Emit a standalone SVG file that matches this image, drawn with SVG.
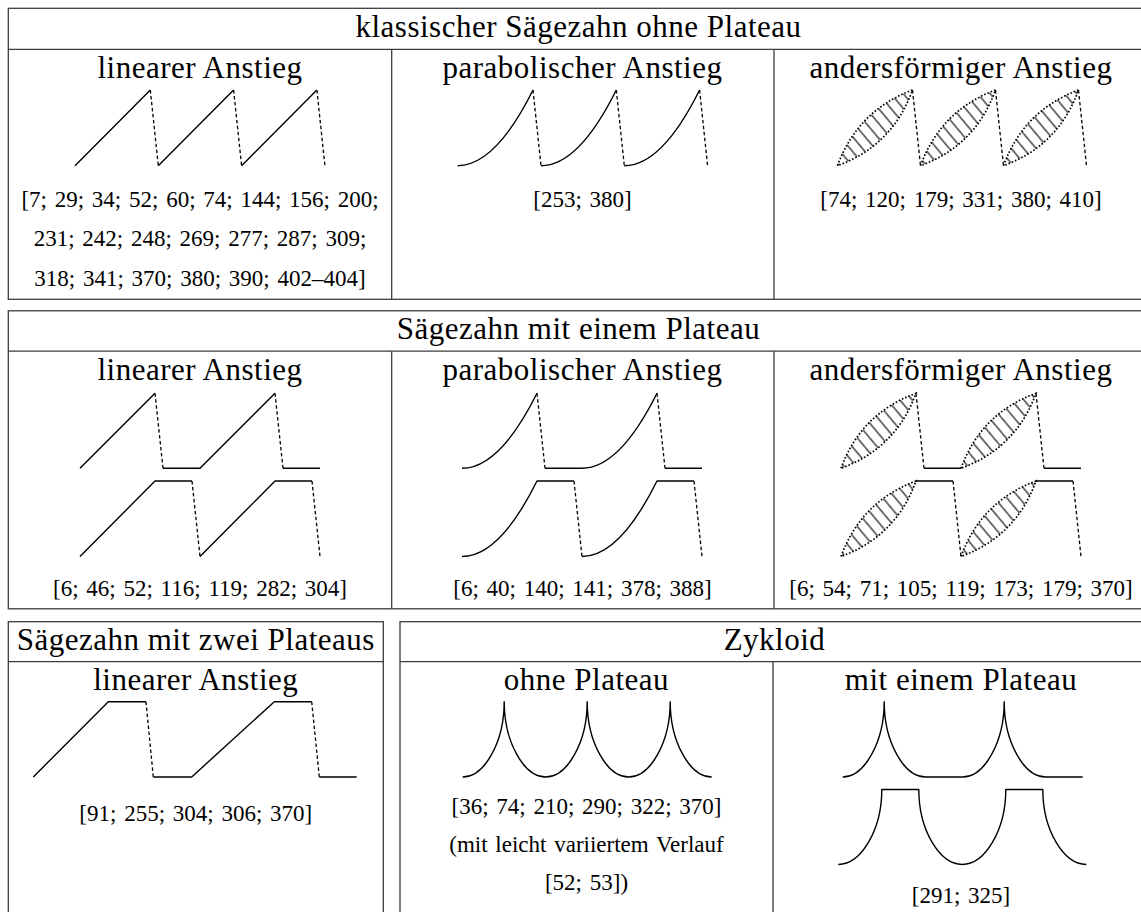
<svg xmlns="http://www.w3.org/2000/svg" width="1141" height="912" viewBox="0 0 1141 912">
<style>
.frame{fill:none;stroke:#3c3c3c;stroke-width:1.3}
.h{font-family:"Liberation Serif",serif;font-size:31px;letter-spacing:0.5px;text-anchor:middle;fill:#000}
.n{font-family:"Liberation Serif",serif;font-size:23px;word-spacing:2px;text-anchor:middle;fill:#000}
.w{fill:none;stroke:#000;stroke-width:1.4;stroke-linejoin:round}
.d{fill:none;stroke:#000;stroke-width:1.3;stroke-dasharray:3.5 2.5}
.lens{fill:url(#hatch);stroke:#000;stroke-width:1.7;stroke-dasharray:1.6 1.9}
</style>
<defs>
<pattern id="hatch" patternUnits="userSpaceOnUse" width="9.5" height="9.5" patternTransform="rotate(-40)">
<line x1="4.75" y1="-1" x2="4.75" y2="10.5" stroke="#000" stroke-width="1.1"/>
</pattern>
</defs>
<rect width="1141" height="912" fill="#fff"/>

<g id="table-klassisch">
<rect class="frame" x="8.3" y="8.3" width="1141" height="291"/>
<line class="frame" x1="8.3" y1="49.3" x2="1149" y2="49.3"/>
<line class="frame" x1="391.7" y1="49.3" x2="391.7" y2="299.3"/>
<line class="frame" x1="774" y1="49.3" x2="774" y2="299.3"/>
<text class="h" x="578.5" y="37">klassischer Sägezahn ohne Plateau</text>
</g>

<g id="k-linear">
<text class="h" x="200" y="78">linearer Anstieg</text>
<path class="w" d="M75,165.7 L150.3,90 M158.3,165.7 L233.6,90 M241.6,165.7 L316.9,90"/>
<path class="d" d="M150.3,90 L158.3,165.7 M233.6,90 L241.6,165.7 M316.9,90 L324.9,165.7"/>
<text class="n" x="200" y="206.5">[7; 29; 34; 52; 60; 74; 144; 156; 200;</text>
<text class="n" x="200" y="246">231; 242; 248; 269; 277; 287; 309;</text>
<text class="n" x="200" y="285.5">318; 341; 370; 380; 390; 402–404]</text>
</g>

<g id="k-parabol">
<text class="h" x="582.5" y="78">parabolischer Anstieg</text>
<path class="w" d="M457.7,165.7 Q495.35,165.7 533,90 M541,165.7 Q578.65,165.7 616.3,90 M624.3,165.7 Q661.95,165.7 699.6,90"/>
<path class="d" d="M533,90 L541,165.7 M616.3,90 L624.3,165.7 M699.6,90 L707.6,165.7"/>
<text class="n" x="582.5" y="206.5">[253; 380]</text>
</g>

<g id="k-anders">
<text class="h" x="961" y="78">andersförmiger Anstieg</text>
<path class="lens" d="M837.5,165.7 Q857.5,110.7 912.5,90 Q892.5,145.7 837.5,165.7 Z"/>
<path class="lens" d="M920.5,165.7 Q940.5,110.7 995.5,90 Q975.5,145.7 920.5,165.7 Z"/>
<path class="lens" d="M1003.5,165.7 Q1023.5,110.7 1078.5,90 Q1058.5,145.7 1003.5,165.7 Z"/>
<path class="d" d="M912.5,90 L920.5,165.7 M995.5,90 L1003.5,165.7 M1078.5,90 L1086.5,165.7"/>
<text class="n" x="961" y="206.5">[74; 120; 179; 331; 380; 410]</text>
</g>

<g id="table-ein-plateau">
<rect class="frame" x="8.3" y="310.8" width="1141" height="298"/>
<line class="frame" x1="8.3" y1="351.2" x2="1149" y2="351.2"/>
<line class="frame" x1="391.7" y1="351.2" x2="391.7" y2="608.8"/>
<line class="frame" x1="774" y1="351.2" x2="774" y2="608.8"/>
<text class="h" x="578.5" y="338.5">Sägezahn mit einem Plateau</text>
</g>

<g id="e-linear">
<text class="h" x="200" y="379.5">linearer Anstieg</text>
<path class="w" d="M80,468.3 L155,393.3 M163,468.3 L200,468.3 L275,393.3 M283,468.3 L320,468.3"/>
<path class="d" d="M155,393.3 L163,468.3 M275,393.3 L283,468.3"/>
<path class="w" d="M80,556.5 L155,481 L192,481 M200,556.5 L275,481 L312,481"/>
<path class="d" d="M192,481 L200,556.5 M312,481 L320,556.5"/>
<text class="n" x="200" y="596">[6; 46; 52; 116; 119; 282; 304]</text>
</g>

<g id="e-parabol">
<text class="h" x="582.5" y="379.5">parabolischer Anstieg</text>
<path class="w" d="M462,468.3 Q499.5,468.3 537,393.3 M545,468.3 L582,468.3 Q619.5,468.3 657,393.3 M665,468.3 L702,468.3"/>
<path class="d" d="M537,393.3 L545,468.3 M657,393.3 L665,468.3"/>
<path class="w" d="M462,556.5 Q499.5,556.5 537,481 L574,481 M582,556.5 Q619.5,556.5 657,481 L694,481"/>
<path class="d" d="M574,481 L582,556.5 M694,481 L702,556.5"/>
<text class="n" x="582.5" y="596">[6; 40; 140; 141; 378; 388]</text>
</g>

<g id="e-anders">
<text class="h" x="961" y="379.5">andersförmiger Anstieg</text>
<path class="lens" d="M841,468.3 Q861,413.3 916,393.3 Q896,448.3 841,468.3 Z"/>
<path class="lens" d="M961,468.3 Q981,413.3 1036,393.3 Q1016,448.3 961,468.3 Z"/>
<path class="w" d="M924,468.3 L961,468.3 M1044,468.3 L1081,468.3"/>
<path class="d" d="M916,393.3 L924,468.3 M1036,393.3 L1044,468.3"/>
<path class="lens" d="M841,556.5 Q861,501.5 916,481 Q896,536.5 841,556.5 Z"/>
<path class="lens" d="M961,556.5 Q981,501.5 1036,481 Q1016,536.5 961,556.5 Z"/>
<path class="w" d="M916,481 L953,481 M1036,481 L1073,481"/>
<path class="d" d="M953,481 L961,556.5 M1073,481 L1081,556.5"/>
<text class="n" x="961" y="596">[6; 54; 71; 105; 119; 173; 179; 370]</text>
</g>

<g id="table-zwei-plateaus">
<rect class="frame" x="8.3" y="621.7" width="375" height="300"/>
<line class="frame" x1="8.3" y1="661.7" x2="383.3" y2="661.7"/>
<text class="h" x="195.8" y="650">Sägezahn mit zwei Plateaus</text>
</g>

<g id="z-linear">
<text class="h" x="195.8" y="690">linearer Anstieg</text>
<path class="w" d="M33.3,777 L108.3,701.7 L146,701.7 M153.3,777 L191.7,777 L274.3,701.7 L311.7,701.7 M319.3,777 L356.7,777"/>
<path class="d" d="M146,701.7 L153.3,777 M311.7,701.7 L319.3,777"/>
<text class="n" x="195.8" y="821">[91; 255; 304; 306; 370]</text>
</g>

<g id="table-zykloid">
<rect class="frame" x="400" y="621.7" width="749" height="300"/>
<line class="frame" x1="400" y1="661.7" x2="1149" y2="661.7"/>
<line class="frame" x1="773" y1="661.7" x2="773" y2="921"/>
<text class="h" x="774.5" y="650">Zykloid</text>
</g>

<g id="zy-ohne">
<text class="h" x="586.5" y="690">ohne Plateau</text>
<path class="w" d="M462.7,777 C484.5,777 504.2,742 504.2,701.7 C504.2,742 523.9,777 545.7,777 C567.5,777 587.2,742 587.2,701.7 C587.2,742 606.9,777 628.7,777 C650.5,777 670.2,742 670.2,701.7 C670.2,742 689.9,777 711.7,777"/>
<text class="n" x="586.5" y="813.5">[36; 74; 210; 290; 322; 370]</text>
<text class="n" x="586.5" y="851.5">(mit leicht variiertem Verlauf</text>
<text class="n" x="586.5" y="889.5">[52; 53])</text>
</g>

<g id="zy-plateau">
<text class="h" x="961" y="690">mit einem Plateau</text>
<path class="w" d="M842.7,777 C864.5,777 884.2,742 884.2,701.7 C884.2,742 903.9,777 925.7,777 L962.7,777 C984.5,777 1004.2,742 1004.2,701.7 C1004.2,742 1023.9,777 1045.7,777 L1082.7,777"/>
<path class="w" d="M838.3,864.5 C861,864.5 881.8,830 881.8,789.5 L918.8,789.5 C918.8,830 939.6,864.5 962.3,864.5 C985,864.5 1005.8,830 1005.8,789.5 L1042.8,789.5 C1042.8,830 1063.6,864.5 1086.3,864.5"/>
<text class="n" x="961" y="903">[291; 325]</text>
</g>
</svg>
